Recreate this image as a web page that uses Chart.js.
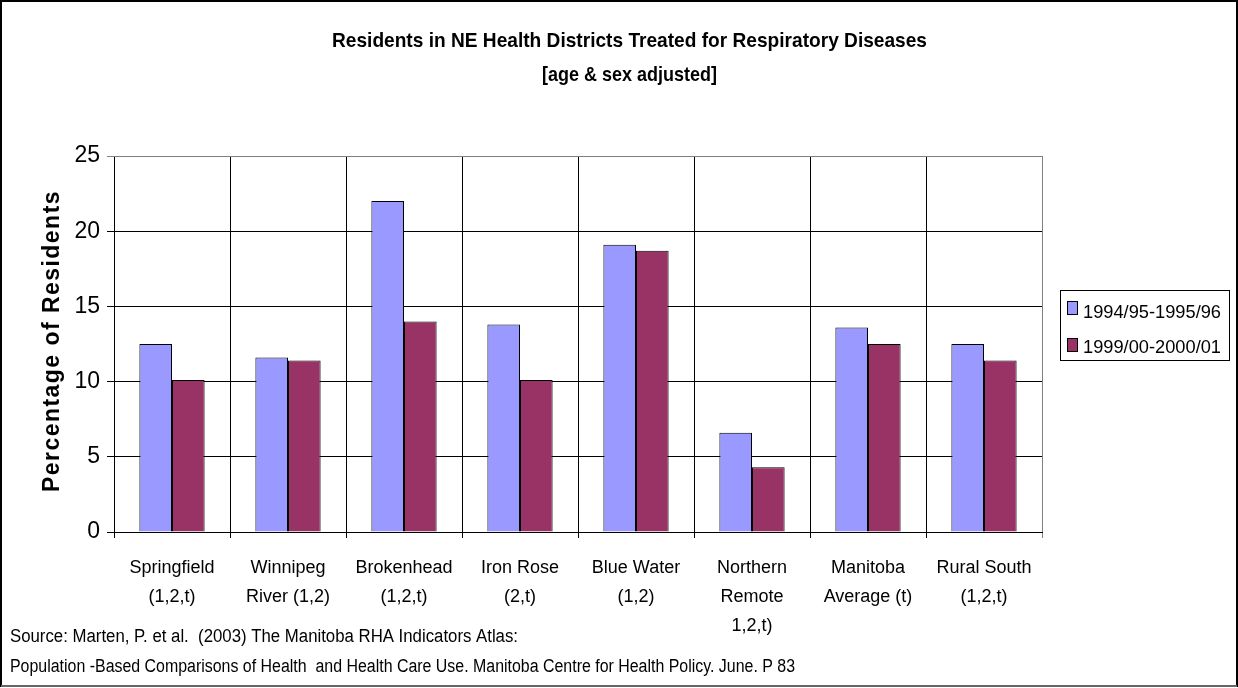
<!DOCTYPE html>
<html>
<head>
<meta charset="utf-8">
<script src="https://cdn.jsdelivr.net/npm/chart.js@4.4.1/dist/chart.umd.min.js"></script>
<style>
  html, body { margin: 0; padding: 0; background: #fff; }
  #wrap { width: 1238px; height: 688px; position: relative; }
</style>
</head>
<body>
<div id="wrap"><canvas id="chart" width="1238" height="688"></canvas></div>
<script>
// Health districts (x-axis categories, multi-line labels)
const districts = [
  ['Springfield', '(1,2,t)'],
  ['Winnipeg', 'River (1,2)'],
  ['Brokenhead', '(1,2,t)'],
  ['Iron Rose', '(2,t)'],
  ['Blue Water', '(1,2)'],
  ['Northern', 'Remote', '1,2,t)'],
  ['Manitoba', 'Average (t)'],
  ['Rural South', '(1,2,t)']
];

// Percentage of residents treated, per period
const seriesNames = ['1994/95-1995/96', '1999/00-2000/01'];
const period1994 = [12.5, 11.6, 22.0, 13.8, 19.1, 6.6, 13.6, 12.5];
const period1999 = [10.1, 11.4, 14.0, 10.1, 18.7, 4.3, 12.5, 11.4];
const seriesColors = ['#9999FF', '#993366'];

// Y-axis ticks
const yTicks = [0, 5, 10, 15, 20, 25];

const titleLines = [
  'Residents in NE Health Districts Treated for Respiratory Diseases',
  '[age & sex adjusted]'
];
const yAxisTitle = 'Percentage of Residents';
const sourceLines = [
  'Source: Marten, P. et al.  (2003) The Manitoba RHA Indicators Atlas:',
  'Population -Based Comparisons of Health  and Health Care Use. Manitoba Centre for Health Policy. June. P 83'
];

const FONT = "'Liberation Sans', Arial, Helvetica, sans-serif";

// Draw text squeezed/stretched horizontally to a given width
function fitText(ctx, text, x, y, width, align) {
  const natural = ctx.measureText(text).width;
  const sx = width / natural;
  ctx.save();
  ctx.translate(x, y);
  ctx.scale(sx, 1);
  ctx.textAlign = align;
  ctx.fillText(text, 0, 0);
  ctx.restore();
}

const decor = {
  id: 'decor',
  beforeDraw(chart) {
    const ctx = chart.ctx;
    ctx.save();
    ctx.fillStyle = '#fff';
    ctx.fillRect(0, 0, chart.width, chart.height);
    ctx.restore();
  },
  afterDraw(chart) {
    const ctx = chart.ctx;
    const area = chart.chartArea;
    ctx.save();

    // plot area frame (top and right edges)
    ctx.strokeStyle = '#808080';
    ctx.lineWidth = 1;
    ctx.beginPath();
    ctx.moveTo(area.left, Math.round(area.top) + 0.5);
    ctx.lineTo(area.right + 0.5, Math.round(area.top) + 0.5);
    ctx.lineTo(area.right + 0.5, area.bottom);
    ctx.stroke();

    // title
    ctx.fillStyle = '#000';
    ctx.textBaseline = 'middle';
    ctx.font = 'bold 21px ' + FONT;
    fitText(ctx, titleLines[0], 629.5, 41, 595, 'center');
    fitText(ctx, titleLines[1], 629.5, 75, 175, 'center');

    // y-axis title
    ctx.font = 'bold 23px ' + FONT;
    const nat = ctx.measureText(yAxisTitle).width;
    const target = 302;
    ctx.save();
    ctx.translate(53, 341);
    ctx.rotate(-Math.PI / 2);
    if ('letterSpacing' in ctx) {
      ctx.letterSpacing = ((target - nat) / yAxisTitle.length) + 'px';
    }
    ctx.textAlign = 'center';
    ctx.fillText(yAxisTitle, 0, 0);
    ctx.restore();

    // source note
    ctx.font = '18px ' + FONT;
    fitText(ctx, sourceLines[0], 10, 637, 508, 'left');
    fitText(ctx, sourceLines[1], 10, 667, 785, 'left');

    // legend
    ctx.strokeStyle = '#000';
    ctx.lineWidth = 1;
    ctx.strokeRect(1060.5, 290.5, 169, 70);
    ctx.font = '19px ' + FONT;
    const rows = [{sy: 301, ty: 313}, {sy: 338, ty: 348}];
    chart.data.datasets.forEach((ds, i) => {
      const r = rows[i];
      ctx.fillStyle = ds.backgroundColor;
      ctx.fillRect(1067.5, r.sy + 0.5, 10, 13);
      ctx.strokeRect(1067.5, r.sy + 0.5, 10, 13);
      ctx.fillStyle = '#000';
      fitText(ctx, ds.label, 1083, r.ty, 138, 'left');
    });

    // outer border
    ctx.strokeStyle = '#000';
    ctx.lineWidth = 2;
    ctx.beginPath();
    ctx.moveTo(1, 687);
    ctx.lineTo(1, 1);
    ctx.lineTo(1237, 1);
    ctx.lineTo(1237, 687);
    ctx.stroke();
    ctx.strokeStyle = '#666';
    ctx.beginPath();
    ctx.moveTo(1, 686);
    ctx.lineTo(1237, 686);
    ctx.stroke();

    ctx.restore();
  }
};

new Chart(document.getElementById('chart'), {
  type: 'bar',
  data: {
    labels: districts,
    datasets: [
      { label: seriesNames[0], data: period1994, backgroundColor: seriesColors[0], borderColor: '#000', borderWidth: 1 },
      { label: seriesNames[1], data: period1999, backgroundColor: seriesColors[1], borderColor: '#000', borderWidth: 1 }
    ]
  },
  options: {
    responsive: false,
    animation: false,
    devicePixelRatio: 1,
    layout: { padding: { top: 156, right: 196, bottom: 0, left: 0 } },
    datasets: { bar: { categoryPercentage: 0.5625, barPercentage: 1.0 } },
    plugins: {
      legend: { display: false },
      title: { display: false },
      tooltip: { enabled: false }
    },
    scales: {
      x: {
        grid: {
          offset: true,
          color: c => (c.type === 'tick' ? '#000' : '#808080'),
          lineWidth: 1,
          tickLength: 6
        },
        border: { color: '#000', width: 1 },
        ticks: {
          color: '#000',
          font: { family: FONT, size: 18, lineHeight: 1.6 },
          padding: 16,
          autoSkip: false,
          maxRotation: 0,
          minRotation: 0
        },
        afterFit(scale) { scale.height = 156; }
      },
      y: {
        min: 0,
        max: 25,
        afterBuildTicks(scale) { scale.ticks = yTicks.map(v => ({ value: v })); },
        grid: {
          color: c => (c.tick && c.tick.value === 25 ? '#808080' : '#000'),
          lineWidth: 1,
          tickLength: 7
        },
        border: { color: '#000', width: 1 },
        ticks: {
          color: '#000',
          font: { family: FONT, size: 23 },
          padding: 7
        },
        afterFit(scale) { scale.width = 114; }
      }
    }
  },
  plugins: [decor]
});
</script>
</body>
</html>
